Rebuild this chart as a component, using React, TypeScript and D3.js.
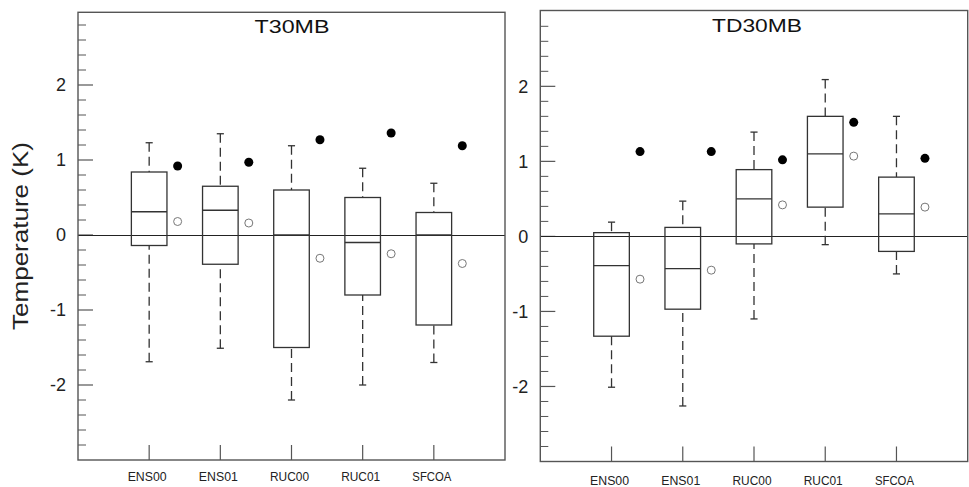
import React from "react";
import * as d3 from "d3";

const categories = ["ENS00", "ENS01", "RUC00", "RUC01", "SFCOA"];
const yTickValues = [-2, -1, 0, 1, 2];

// T30MB
const t30Title = "T30MB";
const t30Low = [-1.69, -1.51, -2.2, -2.0, -1.7];
const t30Q1 = [-0.14, -0.39, -1.5, -0.8, -1.2];
const t30Median = [0.31, 0.33, 0.0, -0.1, 0.0];
const t30Q3 = [0.84, 0.65, 0.6, 0.5, 0.3];
const t30High = [1.23, 1.35, 1.19, 0.89, 0.69];
const t30Filled = [0.92, 0.97, 1.27, 1.36, 1.19];
const t30Open = [0.18, 0.16, -0.31, -0.25, -0.38];

// TD30MB
const td30Title = "TD30MB";
const td30Low = [-2.01, -2.26, -1.1, -0.11, -0.5];
const td30Q1 = [-1.33, -0.97, -0.1, 0.39, -0.2];
const td30Median = [-0.39, -0.43, 0.5, 1.1, 0.3];
const td30Q3 = [0.05, 0.12, 0.89, 1.6, 0.79];
const td30High = [0.19, 0.47, 1.39, 2.09, 1.6];
const td30Filled = [1.13, 1.13, 1.02, 1.52, 1.04];
const td30Open = [-0.57, -0.45, 0.42, 1.07, 0.39];

const FONT = "'Liberation Sans', Arial, Helvetica, sans-serif";
const FRAME = "#555";
const BOX = "#333";

type PanelProps = {
  title: string;
  low: number[];
  q1: number[];
  median: number[];
  q3: number[];
  high: number[];
  filled: number[];
  open: number[];
  left: number;
  right: number;
  frameTop: number;
  yTop: number;
  yBottom: number;
  titleX: number;
  titleY: number;
  labelY: number;
};

function Panel(p: PanelProps) {
  const x = d3.scaleLinear().domain([0, categories.length + 1]).range([p.left, p.right]);
  const y = d3.scaleLinear().domain([-3, 3]).range([p.yBottom, p.yTop]);
  const unit = x(1) - x(0);
  const boxHalf = 0.25 * unit;
  const capHalf = 0.05 * unit;
  const dotOff = 0.4 * unit;
  const minor = d3.range(-28, 29, 2).map((v) => v / 10).filter((v) => Math.abs(v % 1) > 1e-6);
  const bottom = p.yBottom;
  const zeroY = Math.round(y(0)) + 0.5;

  return (
    <g>
      {minor.map((v, i) => (
        <line key={"mn" + i} x1={p.left} x2={p.left + 8} y1={y(v)} y2={y(v)} stroke={FRAME} strokeWidth={1} />
      ))}
      {yTickValues.map((v) => (
        <g key={"mj" + v}>
          <line x1={p.left} x2={p.left + 15} y1={y(v)} y2={y(v)} stroke={FRAME} strokeWidth={1.2} />
          <text x={p.left - 12} y={y(v)} dy="0.36em" textAnchor="end" fontFamily={FONT} fontSize={18} fill="#222">
            {v}
          </text>
        </g>
      ))}
      <line x1={p.left} x2={p.right} y1={zeroY} y2={zeroY} stroke="#222" strokeWidth={1.2} />
      {categories.map((c, i) => (
        <g key={"xt" + c}>
          <line x1={x(i + 1)} x2={x(i + 1)} y1={bottom} y2={bottom - 15} stroke={FRAME} strokeWidth={1.2} />
          <text x={x(i + 1) - 2} y={p.labelY} textAnchor="middle" fontFamily={FONT} fontSize={13.5} fill="#222" textLength={39} lengthAdjust="spacingAndGlyphs">
            {c}
          </text>
        </g>
      ))}
      {categories.map((c, i) => {
        const cx = x(i + 1);
        return (
          <g key={"bx" + c}>
            <line x1={cx} x2={cx} y1={y(p.high[i])} y2={y(p.q3[i])} stroke={BOX} strokeWidth={1.3} strokeDasharray="9,5" />
            <line x1={cx} x2={cx} y1={y(p.low[i])} y2={y(p.q1[i])} stroke={BOX} strokeWidth={1.3} strokeDasharray="9,5" />
            <line x1={cx - capHalf} x2={cx + capHalf} y1={y(p.high[i])} y2={y(p.high[i])} stroke={BOX} strokeWidth={1.3} />
            <line x1={cx - capHalf} x2={cx + capHalf} y1={y(p.low[i])} y2={y(p.low[i])} stroke={BOX} strokeWidth={1.3} />
            <rect x={cx - boxHalf} y={y(p.q3[i])} width={2 * boxHalf} height={y(p.q1[i]) - y(p.q3[i])} fill="none" stroke={BOX} strokeWidth={1.3} />
            <line x1={cx - boxHalf} x2={cx + boxHalf} y1={y(p.median[i])} y2={y(p.median[i])} stroke={BOX} strokeWidth={1.3} />
            <circle cx={cx + dotOff} cy={y(p.filled[i])} r={4.5} fill="#000" />
            <circle cx={cx + dotOff} cy={y(p.open[i])} r={4} fill="none" stroke="#777" strokeWidth={1} />
          </g>
        );
      })}
      <rect x={p.left} y={p.frameTop} width={p.right - p.left} height={bottom - p.frameTop} fill="none" stroke={FRAME} strokeWidth={1.4} />
      <text x={p.titleX} y={p.titleY} textAnchor="middle" fontFamily={FONT} fontSize={19} fill="#111" textLength={p.title.length * 15} lengthAdjust="spacingAndGlyphs">
        {p.title}
      </text>
    </g>
  );
}

export default function App() {
  return (
    <svg width={969} height={487} style={{ position: "absolute", left: 0, top: 0, background: "#fff" }}>
      <rect x={0} y={0} width={969} height={487} fill="#fff" />
      <text
        transform="translate(28,236) rotate(-90)"
        textAnchor="middle"
        fontFamily={FONT}
        fontSize={22}
        fill="#222"
        textLength={188}
        lengthAdjust="spacingAndGlyphs"
      >
        Temperature (K)
      </text>
      <Panel
        title={t30Title}
        low={t30Low}
        q1={t30Q1}
        median={t30Median}
        q3={t30Q3}
        high={t30High}
        filled={t30Filled}
        open={t30Open}
        left={78}
        right={505}
        frameTop={12.3}
        yTop={10}
        yBottom={460}
        titleX={292}
        titleY={33}
        labelY={481}
      />
      <Panel
        title={td30Title}
        low={td30Low}
        q1={td30Q1}
        median={td30Median}
        q3={td30Q3}
        high={td30High}
        filled={td30Filled}
        open={td30Open}
        left={540.3}
        right={967.7}
        frameTop={10.5}
        yTop={11.3}
        yBottom={461.5}
        titleX={757}
        titleY={32}
        labelY={485}
      />
    </svg>
  );
}
